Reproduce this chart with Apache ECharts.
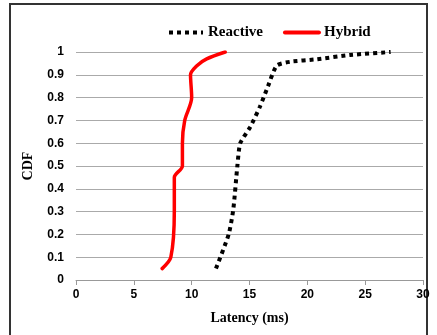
<!DOCTYPE html>
<html>
<head>
<meta charset="utf-8">
<script src="https://cdn.jsdelivr.net/npm/echarts@6/dist/echarts.min.js"></script>
<style>
  html, body { margin: 0; padding: 0; background: #fff; }
  #box { width: 437px; height: 335px; }
</style>
</head>
<body>
<div id="box"></div>
<script>
// latency (ms), CDF pairs
const reactiveX = [12.1, 13.2, 13.6, 13.95, 14.2, 15.05, 15.9, 16.6, 17.35, 18.5, 20.8, 23.7, 27.2];
const reactiveY = [0.05, 0.2, 0.31, 0.5, 0.6, 0.67, 0.76, 0.85, 0.94, 0.957, 0.968, 0.987, 1.0];
const hybridX = [7.45, 8.2, 8.5, 8.5, 9.2, 9.2, 9.4, 10.0, 9.9, 10.45, 11.3, 12.9];
const hybridY = [0.05, 0.1, 0.3, 0.45, 0.5, 0.6, 0.7, 0.8, 0.9, 0.94, 0.97, 1.0];
const seriesNames = ["Reactive", "Hybrid"];

function pairs(xs, ys) {
  return xs.map((x, i) => [x, ys[i]]);
}

let chart = echarts.init(document.getElementById("box"));
let option = {
  animation: false,
  graphic: [
    {
      type: "rect",
      shape: { x: 10, y: 4, width: 417, height: 340 },
      style: { fill: "none", stroke: "#333", lineWidth: 2 },
    },
  ],
  legend: {
    data: seriesNames,
    top: 20,
    left: 162,
    itemWidth: 34,
    itemHeight: 14,
    itemGap: 20,
    itemStyle: { opacity: 0 },
    lineStyle: { width: 4 },
    textStyle: {
      fontFamily: "Liberation Serif",
      fontWeight: "bold",
      fontSize: 15,
      color: "#000",
    },
  },
  grid: { left: 76, right: 14, top: 52, bottom: 55 },
  xAxis: {
    type: "value",
    min: 0,
    max: 30,
    interval: 5,
    name: "Latency (ms)",
    nameLocation: "middle",
    nameGap: 31,
    nameTextStyle: {
      fontFamily: "Liberation Serif",
      fontWeight: "bold",
      fontSize: 14,
      color: "#000",
    },
    axisLine: { show: true, lineStyle: { color: "#999" } },
    axisTick: { show: true, length: 5, lineStyle: { color: "#999" } },
    axisLabel: { fontFamily: "Liberation Sans", fontWeight: "bold", fontSize: 12, color: "#000", margin: 9 },
    splitLine: { show: false },
  },
  yAxis: {
    type: "value",
    min: 0,
    max: 1,
    interval: 0.1,
    name: "CDF",
    nameLocation: "middle",
    nameGap: 41,
    nameTextStyle: {
      fontFamily: "Liberation Serif",
      fontWeight: "bold",
      fontSize: 14,
      color: "#000",
    },
    axisLine: { show: false },
    axisTick: { show: false },
    axisLabel: {
      fontFamily: "Liberation Sans",
      fontWeight: "bold",
      fontSize: 12,
      color: "#000",
      margin: 12,
      formatter: (v) => String(Math.round(v * 10) / 10),
    },
    splitLine: { show: true, lineStyle: { color: "#aaa", width: 1 } },
  },
  series: [
    {
      name: "Reactive",
      type: "line",
      data: pairs(reactiveX, reactiveY),
      showSymbol: false,
      symbol: "none",
      smooth: 0.2,
      itemStyle: { color: "#000" },
      lineStyle: { color: "#000", width: 4, type: [4, 4] },
    },
    {
      name: "Hybrid",
      type: "line",
      data: pairs(hybridX, hybridY),
      showSymbol: false,
      symbol: "none",
      smooth: 0.3,
      itemStyle: { color: "#ff0000" },
      lineStyle: { color: "#ff0000", width: 3.5, cap: "round" },
    },
  ],
};
chart.setOption(option);
</script>
</body>
</html>
